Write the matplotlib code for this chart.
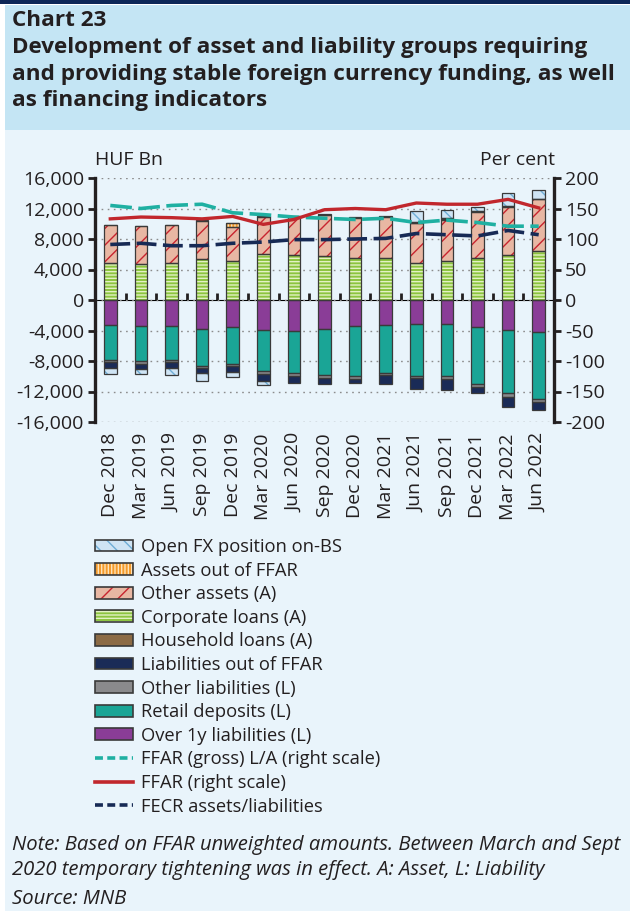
import matplotlib
matplotlib.use("Agg")
import matplotlib.pyplot as plt
from matplotlib.patches import Patch, Rectangle
from matplotlib.lines import Line2D
from matplotlib.legend_handler import HandlerTuple
import numpy as np

plt.rcParams['font.family'] = ['Open Sans', 'DejaVu Sans']
plt.rcParams['hatch.linewidth'] = 1.0

# ---- data (HUF bn, per cent) ----
periods = ['Dec 2018', 'Mar 2019', 'Jun 2019', 'Sep 2019', 'Dec 2019', 'Mar 2020',
           'Jun 2020', 'Sep 2020', 'Dec 2020', 'Mar 2021', 'Jun 2021', 'Sep 2021',
           'Dec 2021', 'Mar 2022', 'Jun 2022']

corporate_loans = [4900, 4750, 4900, 5350, 5100, 6050, 5900, 5780, 5570, 5480, 4910, 5170, 5570, 5910, 6430]
other_assets = [4880, 4900, 4880, 5050, 4500, 4850, 5000, 5420, 5230, 5420, 5150, 5380, 5910, 6290, 6770]
assets_out_ffar = [0, 0, 0, 0, 450, 0, 0, 0, 0, 0, 60, 60, 0, 0, 0]
household_loans = [80, 80, 80, 80, 80, 80, 80, 80, 80, 80, 80, 80, 150, 100, 60]
open_fx = [-780, -610, -960, -1080, -660, -600, 0, 0, 0, 0, 1450, 1100, 550, 1750, 1200]

over_1y = [3220, 3430, 3430, 3830, 3570, 3960, 4100, 3830, 3430, 3300, 3130, 3130, 3570, 3960, 4260]
retail_deposits = [4650, 4570, 4400, 4820, 4820, 5340, 5420, 6000, 6530, 6220, 6830, 6830, 7470, 8300, 8740]
other_liabilities = [260, 390, 260, 310, 260, 440, 390, 340, 340, 350, 240, 340, 310, 440, 350]
liab_out_ffar = [740, 700, 780, 610, 780, 860, 920, 870, 530, 1090, 1450, 1480, 820, 1300, 1050]

ffar_gross = [155, 150, 155, 157, 143, 140, 136, 134, 132, 134, 127, 131, 127, 121, 121]
ffar = [133, 136, 135, 133, 137, 124, 132, 148, 150, 148, 159, 157, 157, 165, 151]
fecr = [91, 93, 89, 89, 93, 95, 99, 99, 100, 101, 109, 107, 105, 114, 107]

left_ticks = [16000, 12000, 8000, 4000, 0, -4000, -8000, -12000, -16000]
right_ticks = [200, 150, 100, 50, 0, -50, -100, -150, -200]

# ---- styles ----
EDGE = '#3a3a3a'
INK = '#231f20'
C_OPENFX, H_OPENFX = '#cfe4f4', '#6fadd6'
C_OUT_A, H_OUT_A = '#f39a2b', '#fde2b8'
C_OTHER_A, H_OTHER_A = '#e8b7a3', '#c8242f'
C_CORP, H_CORP = '#8cc43f', '#e3f1c4'
C_HH = '#8c6b45'
C_OUT_L = '#1a2b57'
C_OTHER_L = '#8a8a8c'
C_RETAIL = '#1aa596'
C_OVER1Y = '#8a3d97'
C_GROSS = '#1fb0a2'
C_FFAR = '#c1272d'
C_FECR = '#172a55'
PANEL = '#e9f4fb'
BAND = '#c4e5f4'
TICK_FS = 14

fig = plt.figure(figsize=(6.3, 9.15), dpi=100)
fig.patch.set_facecolor('white')
fig.patches.append(Rectangle((5 / 630, 0.004), 1, 1 - 130 / 915 - 0.004, transform=fig.transFigure,
                             facecolor=PANEL, edgecolor='none', zorder=-10))
fig.patches.append(Rectangle((5 / 630, 1 - 130 / 915), 1, 125 / 915, transform=fig.transFigure,
                             facecolor=BAND, edgecolor='none', zorder=-10))
fig.patches.append(Rectangle((0, 1 - 4 / 915), 1, 4 / 915, transform=fig.transFigure,
                             facecolor='#0c2657', edgecolor='none', zorder=-10))

fig.text(12 / 630, 1 - 10 / 915,
         'Chart 23\nDevelopment of asset and liability groups requiring\n'
         'and providing stable foreign currency funding, as well\nas financing indicators',
         ha='left', va='top', fontsize=16.2, fontweight='bold', color=INK, linespacing=1.36)

ax = fig.add_axes([95 / 630, 1 - 422 / 915, 459 / 630, 244 / 915])
ax.set_facecolor('none')
x = np.arange(len(periods))
W = 0.41


def stacked(values, bottom, color, hatch=None, hcolor=None):
    values = np.asarray(values, dtype=float)
    ax.bar(x, values, W, bottom=bottom, color=color, edgecolor='none', linewidth=0, zorder=2)
    if hatch:
        ax.bar(x, values, W, bottom=bottom, color='none', edgecolor=hcolor, hatch=hatch,
               linewidth=0, zorder=2.1)
    ax.bar(x, values, W, bottom=bottom, color='none', edgecolor=EDGE, linewidth=0.9, zorder=2.2)


# assets (positive)
pos = np.zeros(len(x))
stacked(corporate_loans, pos, C_CORP, '-----', H_CORP)
pos += corporate_loans
stacked(other_assets, pos, C_OTHER_A, '//', H_OTHER_A)
pos += other_assets
out_a = np.array(assets_out_ffar, dtype=float)
stacked(np.where(out_a > 0, out_a, np.nan), pos, C_OUT_A, '|||||', H_OUT_A)
pos += out_a
stacked(household_loans, pos, C_HH)
pos += household_loans

# liabilities (negative)
neg = np.zeros(len(x))
for vals, col in [(over_1y, C_OVER1Y), (retail_deposits, C_RETAIL),
                  (other_liabilities, C_OTHER_L), (liab_out_ffar, C_OUT_L)]:
    v = -np.asarray(vals, dtype=float)
    stacked(v, neg, col)
    neg += v

fx = np.asarray(open_fx, dtype=float)
fx_bottom = np.where(fx > 0, pos, neg)
stacked(np.where(fx != 0, fx, np.nan), fx_bottom, C_OPENFX, '\\\\', H_OPENFX)

ax.set_xlim(-0.5, len(x) - 0.5)
ax.set_ylim(-16000, 16000)
ax.set_yticks(left_ticks, [f'{t:,}' for t in left_ticks])
ax.set_xticks(x, periods, rotation=90)
ax.tick_params(axis='x', length=0, pad=8, labelsize=TICK_FS, colors=INK)
ax.tick_params(axis='y', direction='out', length=5, width=2, labelsize=TICK_FS, colors=INK, pad=3)
ax.grid(axis='y', color='#8c8c8c', linestyle=(0, (1.2, 3.2)), linewidth=1.0, zorder=0)
ax.set_axisbelow(True)
for s in ['top', 'bottom', 'right']:
    ax.spines[s].set_visible(False)
ax.spines['left'].set_linewidth(2.4)
ax.spines['left'].set_color(INK)

# zero line with category separators
zero = ax.secondary_xaxis(0.5)
zero.set_xticks(x[:-1] + 0.5, [])
zero.tick_params(direction='out', length=5, width=2, color=INK)
zero.spines['bottom'].set_linewidth(2.2)
zero.spines['bottom'].set_color(INK)

ax2 = ax.twinx()
ax2.set_ylim(-200, 200)
ax2.set_yticks(right_ticks, [str(t) for t in right_ticks])
ax2.tick_params(axis='y', direction='out', length=5, width=2, labelsize=TICK_FS, colors=INK, pad=3)
for s in ['top', 'bottom', 'left']:
    ax2.spines[s].set_visible(False)
ax2.spines['right'].set_linewidth(2.4)
ax2.spines['right'].set_color(INK)

ax2.plot(x, ffar_gross, color=C_GROSS, linewidth=2.6, dashes=(6, 1.8), zorder=3)
ax2.plot(x, ffar, color=C_FFAR, linewidth=2.4, zorder=4)
ax2.plot(x, fecr, color=C_FECR, linewidth=2.6, dashes=(5.5, 1.8), zorder=5)

fig.text(95 / 630, 1 - 160 / 915, 'HUF Bn', ha='left', va='center', fontsize=TICK_FS, color=INK)
fig.text(555 / 630, 1 - 160 / 915, 'Per cent', ha='right', va='center', fontsize=TICK_FS, color=INK)


def patch_handle(color, hatch=None, hcolor=None):
    parts = [Patch(facecolor=color, edgecolor='none', linewidth=0)]
    if hatch:
        parts.append(Patch(facecolor='none', edgecolor=hcolor, hatch=hatch, linewidth=0))
    parts.append(Patch(facecolor='none', edgecolor=EDGE, linewidth=1.2))
    return tuple(parts)


handles = [
    patch_handle(C_OPENFX, '\\\\', H_OPENFX),
    patch_handle(C_OUT_A, '|||||', H_OUT_A),
    patch_handle(C_OTHER_A, '//', H_OTHER_A),
    patch_handle(C_CORP, '-----', H_CORP),
    patch_handle(C_HH),
    patch_handle(C_OUT_L),
    patch_handle(C_OTHER_L),
    patch_handle(C_RETAIL),
    patch_handle(C_OVER1Y),
    Line2D([], [], color=C_GROSS, linewidth=2.6, dashes=(2.2, 1.2)),
    Line2D([], [], color=C_FFAR, linewidth=2.6),
    Line2D([], [], color=C_FECR, linewidth=2.6, dashes=(2.2, 1.2)),
]
labels = ['Open FX position on-BS', 'Assets out of FFAR', 'Other assets (A)',
          'Corporate loans (A)', 'Household loans (A)', 'Liabilities out of FFAR',
          'Other liabilities (L)', 'Retail deposits (L)', 'Over 1y liabilities (L)',
          'FFAR (gross) L/A (right scale)', 'FFAR (right scale)', 'FECR assets/liabilities']
fig.legend(handles, labels, loc='upper left', bbox_to_anchor=(95 / 630, 1 - 538 / 915),
           frameon=False, fontsize=13.2, handlelength=2.05, handleheight=0.6,
           handletextpad=0.45, labelspacing=0.305, borderaxespad=0, borderpad=0,
           handler_map={tuple: HandlerTuple(ndivide=1, pad=0)}, labelcolor=INK)

notes = ['Note: Based on FFAR unweighted amounts. Between March and Sept',
         '2020 temporary tightening was in effect. A: Asset, L: Liability',
         'Source: MNB']
for line, ypx in zip(notes, [845, 870, 899]):
    fig.text(12 / 630, 1 - ypx / 915, line, ha='left', va='center', fontsize=14.6,
             style='italic', color=INK)

fig.savefig('out.png', dpi=100, facecolor=fig.get_facecolor())
